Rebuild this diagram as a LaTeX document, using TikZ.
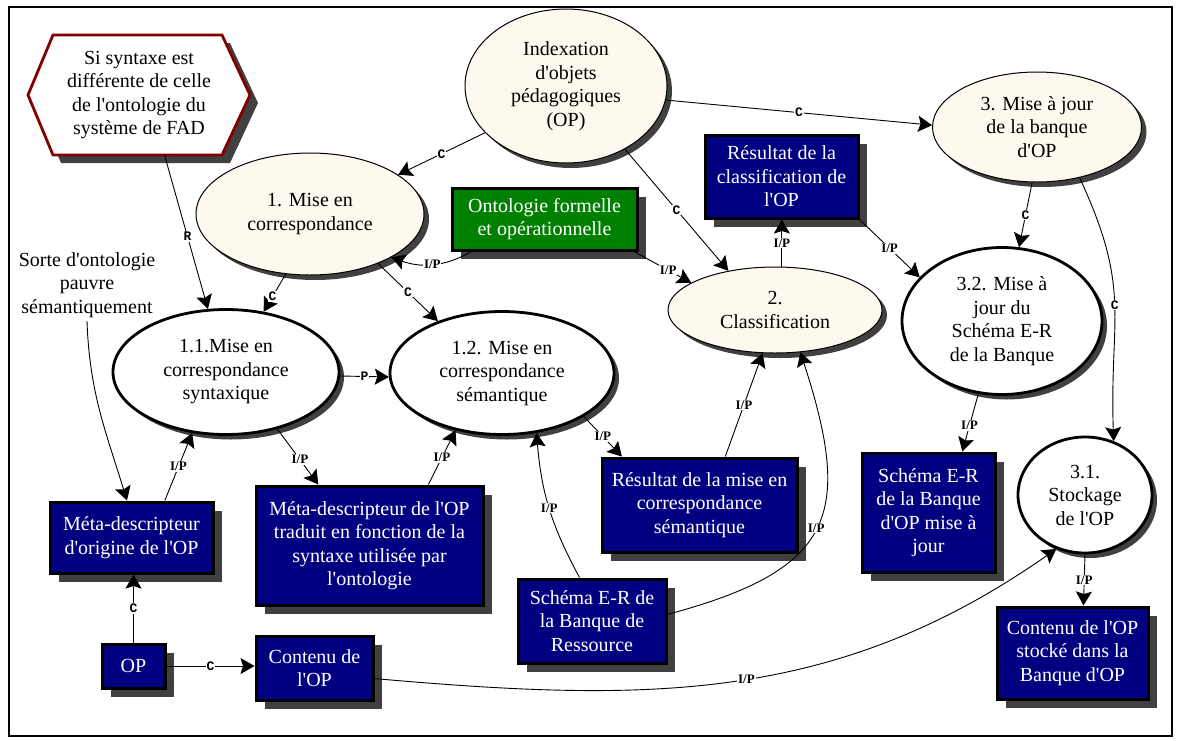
\documentclass[tikz,border=0pt]{standalone}
\usepackage{fontspec}
\setmainfont{Liberation Serif}
\newfontfamily\lblmono{Liberation Mono}
\newcommand\ap{\textquotesingle}
\usetikzlibrary{arrows.meta,shadows,calc,shapes.geometric}
\definecolor{cream}{RGB}{253,249,238}
\definecolor{navybox}{RGB}{0,0,128}
\definecolor{greenbox}{RGB}{0,128,0}
\definecolor{shadowc}{RGB}{64,64,64}
\definecolor{hexred}{RGB}{128,0,0}
\begin{document}
\begin{tikzpicture}[x=1pt,y=-1pt,
  every node/.style={font=\fontsize{20}{23.5}\selectfont, align=center},
  proc/.style={ellipse, draw=black, fill=cream, line width=1pt, inner sep=0pt,
    drop shadow={shadow xshift=5pt, shadow yshift=-5pt, fill=shadowc, opacity=1}},
  procw/.style={proc, fill=white, line width=2.8pt},
  bluebox/.style={rectangle, draw=black, line width=3pt, fill=navybox, text=white, inner sep=0pt,
    drop shadow={shadow xshift=9pt, shadow yshift=-9pt, fill=shadowc, opacity=1}},
  greenbx/.style={bluebox, fill=greenbox},
  link/.style={line width=0.9pt, -{Stealth[length=14pt,width=16pt,inset=2.5pt]}},
  lbl/.style={font=\bfseries\fontsize{13}{13}\selectfont, fill=white, inner sep=0.8pt},
  lblm/.style={font=\lblmono\bfseries\fontsize{13}{13}\selectfont, fill=white, inner sep=0.8pt},
]
\useasboundingbox (0,0) rectangle (1179,740);
\fill[white] (0,0) rectangle (1179,740);
\draw[line width=2.5pt] (9,7) rectangle (1172,736);

% hexagon
\coordinate (hexc) at (139,95);
\fill[shadowc] ($(hexc)+(-103,8)$) -- ($(hexc)+(-78,-52)$) -- ($(hexc)+(91,-52)$) -- ($(hexc)+(119,8)$) -- ($(hexc)+(91,68)$) -- ($(hexc)+(-78,68)$) -- cycle;
\filldraw[draw=hexred, fill=white, line width=2.8pt, line join=miter] ($(hexc)+(-111,0)$) -- ($(hexc)+(-86,-60)$) -- ($(hexc)+(83,-60)$) -- ($(hexc)+(111,0)$) -- ($(hexc)+(83,60)$) -- ($(hexc)+(-86,60)$) -- cycle;
\node[rectangle, inner sep=0pt, minimum width=222pt, minimum height=120pt] (hex) at (hexc) {Si syntaxe est\\différente de celle\\de l\ap ontologie du\\système de FAD};

% ellipses
\node[proc, minimum width=202pt, minimum height=154pt] (idx) at (566,86) {Indexation\\d\ap objets\\pédagogiques\\(OP)};
\node[proc, minimum width=209pt, minimum height=110pt] (m3) at (1037,127) {3. Mise à jour\\de la banque\\d\ap OP};
\node[proc, minimum width=228pt, minimum height=122pt] (m1) at (310,214) {1. Mise en\\correspondance};
\node[proc, minimum width=214pt, minimum height=86pt] (cls) at (775,310) {2.\\Classification};
\node[procw, minimum width=200pt, minimum height=147pt] (m32) at (1002,321) {3.2. Mise à\\jour du\\Schéma E-R\\de la Banque};
\node[procw, minimum width=226pt, minimum height=125pt] (m11) at (226,372) {1.1.Mise en\\correspondance\\syntaxique};
\node[procw, minimum width=224pt, minimum height=123pt] (m12) at (502,373) {1.2. Mise en\\correspondance\\sémantique};
\node[procw, minimum width=134pt, minimum height=116pt] (m31) at (1085,495) {3.1.\\Stockage\\de l\ap OP};

% boxes
\node[greenbx, minimum width=185pt, minimum height=62pt] (onto) at (544.5,219) {Ontologie formelle\\et opérationnelle};
\node[bluebox, minimum width=153pt, minimum height=83pt] (rcls) at (781.5,176.5) {Résultat de la\\classification de\\l\ap OP};
\node[bluebox, minimum width=195pt, minimum height=94pt] (rsem) at (699.5,505) {Résultat de la mise en\\correspondance\\sémantique};
\node[bluebox, minimum width=133pt, minimum height=119pt] (ser) at (928.5,512.5) {Schéma E-R\\de la Banque\\d\ap OP mise à\\jour};
\node[bluebox, minimum width=163pt, minimum height=71pt] (mo) at (131.5,537.5) {Méta-descripteur\\d\ap origine de l\ap OP};
\node[bluebox, minimum width=227pt, minimum height=119pt] (mt) at (369.5,545.5) {Méta-descripteur de l\ap OP\\traduit en fonction de la\\syntaxe utilisée par\\l\ap ontologie};
\node[bluebox, minimum width=148pt, minimum height=84pt] (sr) at (592,621) {Schéma E-R de\\la Banque de\\Ressource};
\node[bluebox, minimum width=63pt, minimum height=44pt] (op) at (133.5,666) {OP};
\node[bluebox, minimum width=117pt, minimum height=64pt] (co) at (314.5,668) {Contenu de\\l\ap OP};
\node[bluebox, minimum width=151pt, minimum height=92pt] (cs) at (1072.5,653) {Contenu de l\ap OP\\stocké dans la\\Banque d\ap OP};

\node (sorte) at (87,285) {Sorte d\ap ontologie\\pauvre\\sémantiquement};

% connectors
\draw[link] (idx.-8) -- node[lblm]{C} (m3.179);
\draw[link] (idx.-150) -- node[lblm]{C} (m1.24);
\draw[link] (idx.-47) -- node[lblm]{C} (cls.140);
\draw[link] (hex.-67) -- node[lblm,pos=.53]{R} (m11.106);
\draw[link] (m1.-112) -- node[lblm,pos=.6]{C} (m11.58);
\draw[link] (m1.-36) -- node[lblm]{C} (m12.141);
\draw[link] (onto.-156) to[out=-150,in=-20] node[lbl]{I/P} (m1.-28);
\draw[link] (onto.-20) -- node[lbl,pos=.6]{I/P} (cls.162);
\draw[link] (cls.81) -- node[lbl]{I/P} (cls.81 |- rcls.south);
\draw[link] (rcls.south east) -- node[lbl]{I/P} (m32.152);
\draw[link] (m3.-95) -- node[lblm]{C} (m32.77);
\draw[link] (m3.-50) to[out=-65,in=92,looseness=1.2] node[lblm]{C} (m31.62);
\draw[link] (m11.-2) -- node[lblm]{P} (m12.182);
\draw[link] (m11.-48) -- node[lbl,pos=.55]{I/P} (mt.130);
\draw[link] (mo.48) -- node[lbl]{I/P} (m11.-119);
\draw[link] (sorte.south) to[out=-88,in=107] (mo.97);
\draw[link] (mt.46) -- node[lbl]{I/P} (m12.-129);
\draw[link] (m12.-28) -- node[lbl]{I/P} (rsem.148);
\draw[link] (sr.106) to[bend left=12] node[lbl]{I/P} (m12.-60);
\draw[link] (sr.5) to[out=15,in=-72,looseness=1.5] node[lbl]{I/P} (cls.-59);
\draw[link] (rsem.62) -- node[lbl]{I/P} (cls.-106);
\draw[link] (m32.-108) -- node[lbl,pos=.55]{I/P} (ser.61);
\draw[link] (m31.-90) -- node[lbl]{I/P} (cs.77);
\draw[link] (op.north) -- node[lblm]{C} (op.north |- mo.south);
\draw[link] (op.east) -- node[lblm]{C} (op.east -| co.west);
\draw[link] (co.-10) to[out=-5,in=-145] node[lbl,pos=.52]{I/P} (m31.-118);
\end{tikzpicture}
\end{document}
